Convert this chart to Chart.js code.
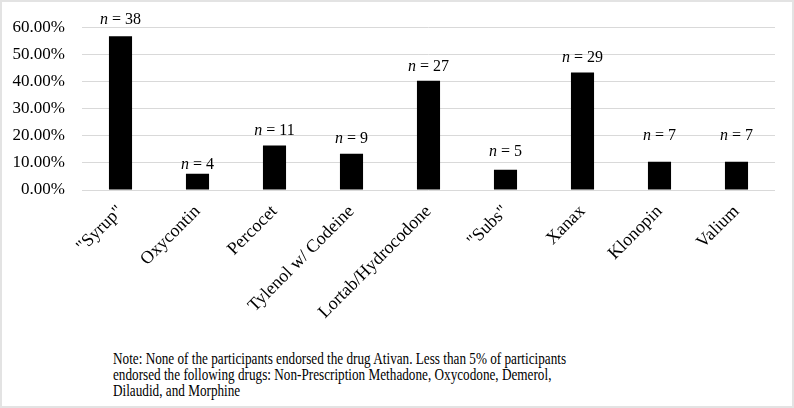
<!DOCTYPE html>
<html>
<head>
<meta charset="utf-8">
<script src="https://cdn.jsdelivr.net/npm/chart.js@4/dist/chart.umd.min.js"></script>
<style>
    html, body { margin: 0; padding: 0; background: #fff; }
    body { width: 794px; height: 408px; position: relative; overflow: hidden; }
    #frame {
        position: absolute; left: 0; top: 0; width: 790px; height: 404px;
        border: 2px solid #e3e3e3;
    }
    #chart-wrap { position: absolute; left: 0; top: 0; width: 794px; height: 345px; }
    #note {
        position: absolute; left: 113px; top: 351px; width: 560px;
        font-family: "Liberation Serif", "Times New Roman", serif;
        font-size: 16.5px; line-height: 16px; color: #000;
        white-space: nowrap;
        transform: scaleX(0.8); transform-origin: 0 0;
    }
</style>
</head>
<body>
<div id="frame"></div>
<div id="chart-wrap"><canvas id="drugs"></canvas></div>
<div id="note">Note: None of the participants endorsed the drug Ativan. Less than 5% of participants<br>endorsed the following drugs: Non-Prescription Methadone, Oxycodone, Demerol,<br>Dilaudid, and Morphine</div>
<script>
const drugs = ['"Syrup"', 'Oxycontin', 'Percocet', 'Tylenol w/ Codeine', 'Lortab/Hydrocodone', '"Subs"', 'Xanax', 'Klonopin', 'Valium'];
const percents = [56.7, 6.0, 16.4, 13.4, 40.3, 7.5, 43.3, 10.4, 10.4];
const counts = [38, 4, 11, 9, 27, 5, 29, 7, 7];
const yTicks = [0, 10, 20, 30, 40, 50, 60];

const serif = '"Liberation Serif", "Times New Roman", serif';

// draws the "n = xx" label over each bar, with an italic n
// (labels in the original sit at uneven heights above the bars)
const countLabels = {
    id: 'countLabels',
    afterDatasetsDraw(chart, args, opts) {
        const ctx = chart.ctx;
        const bars = chart.getDatasetMeta(0).data;
        ctx.save();
        ctx.fillStyle = '#000';
        ctx.textBaseline = 'alphabetic';
        ctx.textAlign = 'left';
        bars.forEach((bar, i) => {
            const rest = ' = ' + counts[i];
            ctx.font = 'italic 16px ' + serif;
            const wN = ctx.measureText('n').width;
            ctx.font = '16px ' + serif;
            const wRest = ctx.measureText(rest).width;
            const left = bar.x - (wN + wRest) / 2;
            const y = bar.y - opts.lift[i];
            ctx.font = 'italic 16px ' + serif;
            ctx.fillText('n', left, y);
            ctx.font = '16px ' + serif;
            ctx.fillText(rest, left + wN, y);
        });
        ctx.restore();
    }
};

document.addEventListener('DOMContentLoaded', function() {
    const ctx = document.getElementById('drugs').getContext('2d');
    new Chart(ctx, {
        type: 'bar',
        data: {
            labels: drugs,
            datasets: [{
                data: percents,
                backgroundColor: '#000',
                borderWidth: 0,
                categoryPercentage: 1,
                barPercentage: 0.3
            }]
        },
        options: {
            responsive: true,
            maintainAspectRatio: false,
            animation: false,
            layout: { padding: { top: 20, right: 19, left: 0, bottom: 0 } },
            plugins: {
                legend: { display: false },
                tooltip: { enabled: false },
                countLabels: { lift: [12, 5, 11, 11, 10, 14, 11, 22, 22] }
            },
            scales: {
                x: {
                    grid: { display: false },
                    border: { display: false },
                    ticks: {
                        color: '#000',
                        font: { family: serif, size: 18 },
                        minRotation: 45,
                        maxRotation: 45,
                        padding: 3
                    },
                    afterFit(scale) { scale.height = 155; }
                },
                y: {
                    min: 0,
                    max: 60,
                    afterBuildTicks(scale) { scale.ticks = yTicks.map(v => ({ value: v })); },
                    grid: { color: '#d9d9d9', lineWidth: 1, drawTicks: false },
                    border: { display: false },
                    ticks: {
                        color: '#000',
                        font: { family: serif, size: 17 },
                        padding: 17,
                        callback: v => v.toFixed(2) + '%'
                    },
                    afterFit(scale) { scale.width = 82; }
                }
            }
        },
        plugins: [countLabels]
    });
});
</script>
</body>
</html>
